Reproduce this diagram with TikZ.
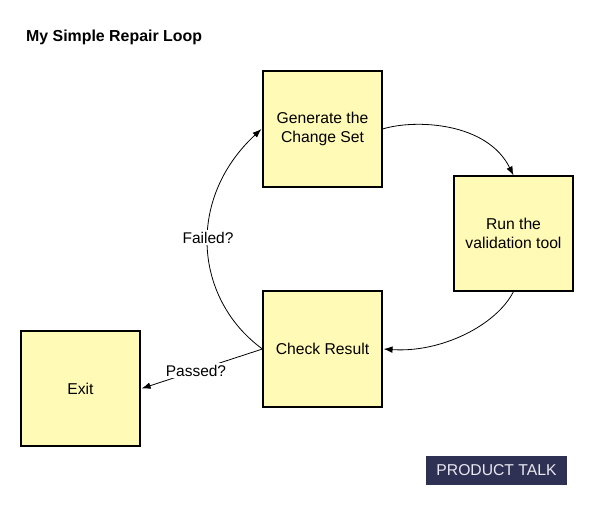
\documentclass[tikz,border=0pt]{standalone}
\usepackage{fontspec}
\setmainfont{Liberation Sans}
\usetikzlibrary{arrows.meta}
\definecolor{boxfill}{RGB}{255,250,182}
\definecolor{badge}{RGB}{47,49,84}
\definecolor{badgetext}{RGB}{232,232,240}
\tikzset{
  stepbox/.style={draw=black, line width=1.1pt, fill=boxfill, minimum width=119pt, minimum height=116pt, inner sep=0pt, align=center, font=\fontsize{15.7}{19}\selectfont},
  conn/.style={draw=black, line width=0.8pt, -{Latex[length=9pt,width=6.5pt]}},
  lbl/.style={fill=white, inner sep=2pt, font=\fontsize{15.5}{19}\selectfont}
}
\begin{document}
\begin{tikzpicture}[x=1pt,y=-1pt]
\useasboundingbox (0,0) rectangle (595,506);
\fill[white] (0,0) rectangle (595,506);
\node[anchor=base west, inner sep=0pt, font=\bfseries\fontsize{15.9}{19}\selectfont] (title) at (26,41.5) {My Simple Repair Loop};
\node[stepbox] (gen) at (322.5,129) {Generate the\\Change Set};
\node[stepbox, minimum height=115pt] (run) at (513.5,233.5) {Run the\\validation tool};
\node[stepbox] (check) at (322.5,349) {Check Result};
\node[stepbox, minimum width=119pt, minimum height=115pt] (exit) at (80.5,388.5) {Exit};
\draw[conn] (gen.east) .. controls (415,119) and (487,122) .. (run.north);
\draw[conn] (run.south) .. controls (496,326) and (440,353) .. ([xshift=1pt]check.east);
\draw[conn] (check.west) .. controls (195,300) and (185,200) .. node[lbl, pos=0.54] (failed) {Failed?} ([xshift=-1pt]gen.west);
\draw[conn] (check.west) -- node[lbl, pos=0.55] (passed) {Passed?} ([xshift=1pt]exit.east);
\node[fill=badge, minimum width=141pt, minimum height=29pt, inner sep=0pt, text=badgetext, font=\fontsize{15.7}{19}\selectfont] (brand) at (496.5,470.5) {PRODUCT TALK};
\end{tikzpicture}
\end{document}
